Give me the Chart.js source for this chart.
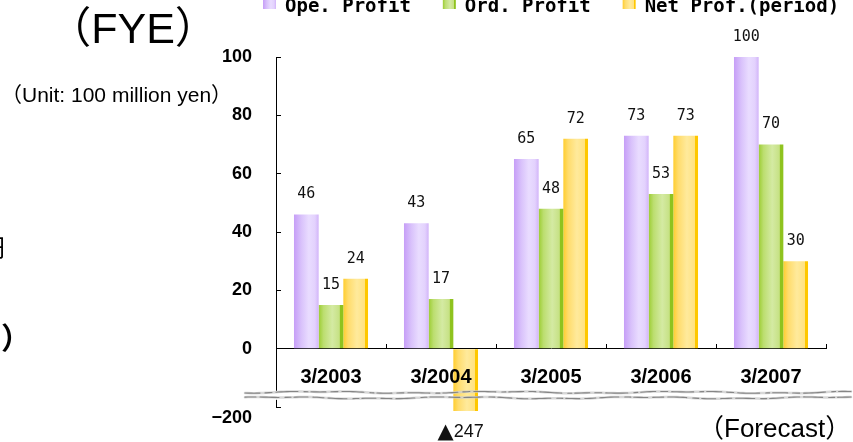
<!DOCTYPE html>
<html>
<head>
<meta charset="utf-8">
<title>Profit trend</title>
<style>
  html, body { margin: 0; padding: 0; background: #fff; }
  #wrap { position: relative; width: 853px; height: 442px; }
</style>
<script src="https://cdn.jsdelivr.net/npm/chart.js@4/dist/chart.umd.min.js"></script>
</head>
<body>
<div id="wrap"><canvas id="profitChart"></canvas></div>
<script>
// Fiscal years ending in March (3/2007 is the forecast year), unit: 100 million yen
const FISCAL_YEARS = ['3/2003', '3/2004', '3/2005', '3/2006', '3/2007'];
const OPERATING_PROFIT = [46, 43, 65, 73, 100];
const ORDINARY_PROFIT = [15, 17, 48, 53, 70];
const NET_PROFIT = [24, -247, 72, 73, 30];
const SERIES_NAMES = ['Ope. Profit', 'Ord. Profit', 'Net Prof.(period)'];
const Y_TICKS = [-200, 0, 20, 40, 60, 80, 100];
const AXIS_MIN = -200;
const AXIS_MAX = 100;
const BREAK_AT = -160;   // where the zig-zag break of the value axis sits

// Broken value axis: the negative side is compressed so the big loss still fits.
function squash(v) {
  if (v >= 0) return v;
  if (v >= -200) return v / 10;
  return -20 + (v + 200) * 0.03;
}
function stretch(s) {
  if (s >= 0) return s;
  if (s >= -20) return s * 10;
  return -200 + (s + 20) / 0.03;
}

class BrokenLinearScale extends Chart.LinearScale {
  getPixelForValue(value) {
    const lo = squash(this.min), hi = squash(this.max);
    return this.getPixelForDecimal((squash(value) - lo) / (hi - lo));
  }
  getValueForPixel(pixel) {
    const lo = squash(this.min), hi = squash(this.max);
    return stretch(lo + this.getDecimalForPixel(pixel) * (hi - lo));
  }
}
BrokenLinearScale.id = 'brokenLinear';
BrokenLinearScale.defaults = Chart.LinearScale.defaults;
Chart.register(BrokenLinearScale);

// Horizontal shading of each bar (light core, saturated edges)
const SHADES = [
  [[0, '#c69ef7'], [0.3, '#d9c2fb'], [0.6, '#e9dcff'], [0.85, '#e3d2fd'], [1, '#d2b4f9']],
  [[0, '#9ccd33'], [0.2, '#bcde70'], [0.55, '#d4eaa3'], [0.84, '#c6e184'], [0.87, '#8fc31f'], [1, '#8fc31f']],
  [[0, '#ffcd2e'], [0.2, '#ffdc6c'], [0.55, '#ffea9c'], [0.86, '#ffe281'], [0.89, '#ffc700'], [1, '#ffc700']]
];
const FLAT = ['#dcc8fc', '#c4e07f', '#ffe07a'];

function shade(ctx, x0, x1, stops) {
  const g = ctx.createLinearGradient(x0, 0, x1, 0);
  stops.forEach(([o, c]) => g.addColorStop(o, c));
  return g;
}

const barShading = {
  id: 'barShading',
  beforeDatasetDraw(chart, args) {
    const ctx = chart.ctx;
    ctx.save();
    args.meta.data.forEach(bar => {
      const {x, width} = bar.getProps(['x', 'width'], true);
      const own = bar.options;
      bar.options = Object.assign({}, own, {
        backgroundColor: shade(ctx, x - width / 2, x + width / 2, SHADES[args.index])
      });
      bar.draw(ctx);
      bar.options = own;
    });
    ctx.restore();
    return false;
  }
};

function wavy(ctx, x0, x1, y, phase) {
  ctx.beginPath();
  for (let x = x0; x <= x1; x += 3) {
    const dy = Math.sin((x + phase) / 29) * 0.8 + Math.sin((x + phase) / 9.7) * 0.4;
    if (x === x0) ctx.moveTo(x, y + dy); else ctx.lineTo(x, y + dy);
  }
  ctx.stroke();
}

const axisBreak = {
  id: 'axisBreak',
  beforeDatasetsDraw(chart) {
    const {ctx, chartArea} = chart;
    const yc = chart.scales.y.getPixelForValue(BREAK_AT);
    ctx.save();
    ctx.fillStyle = '#fff';
    ctx.fillRect(chartArea.left - 31, yc - 4.5, chart.width, 9);
    ctx.restore();
  },
  afterDatasetsDraw(chart) {
    const {ctx, chartArea} = chart;
    const yc = chart.scales.y.getPixelForValue(BREAK_AT);
    const x0 = chartArea.left - 31, x1 = chart.width;
    ctx.save();
    ctx.lineCap = 'round';
    ctx.strokeStyle = 'rgba(205,205,205,0.8)';
    ctx.lineWidth = 2.5;
    wavy(ctx, x0, x1, yc - 3, 0);
    wavy(ctx, x0, x1, yc + 2.5, 40);
    ctx.strokeStyle = '#858585';
    ctx.lineWidth = 1.1;
    ctx.setLineDash([15, 5, 7, 4, 22, 6, 4, 3]);
    wavy(ctx, x0, x1, yc - 3, 0);
    ctx.setLineDash([11, 4, 19, 6, 6, 3, 14, 5]);
    wavy(ctx, x0, x1, yc + 2.5, 40);
    ctx.restore();
  }
};

const valueLabels = {
  id: 'valueLabels',
  afterDatasetsDraw(chart) {
    const ctx = chart.ctx;
    ctx.save();
    ctx.textBaseline = 'middle';
    ctx.fillStyle = '#111';
    chart.data.datasets.forEach((ds, di) => {
      chart.getDatasetMeta(di).data.forEach((bar, i) => {
        const v = ds.data[i];
        const {x, y} = bar.getProps(['x', 'y'], true);
        if (v >= 0) {
          ctx.textAlign = 'center';
          ctx.font = '15px "DejaVu Sans Mono", monospace';
          ctx.fillText(String(v), x, y - 20);
        } else {
          // Japanese negative notation: a black triangle before the amount
          const mark = '▲', amount = String(Math.abs(v));
          const markFont = '21px "DejaVu Sans", sans-serif';
          const numFont = '18px "Liberation Sans", Arial, sans-serif';
          ctx.font = markFont;
          const wMark = ctx.measureText(mark).width;
          ctx.font = numFont;
          const wNum = ctx.measureText(amount).width;
          const left = x - 5 - (wMark + wNum) / 2;
          ctx.textAlign = 'left';
          ctx.font = markFont;
          ctx.fillText(mark, left, y + 21);
          ctx.font = numFont;
          ctx.fillText(amount, left + wMark, y + 21);
        }
      });
    });
    ctx.restore();
  }
};

const captions = {
  id: 'captions',
  afterDraw(chart) {
    const ctx = chart.ctx;
    ctx.save();
    ctx.fillStyle = '#000';
    ctx.textBaseline = 'alphabetic';
    const put = (text, x, y, font, align) => {
      ctx.font = font;
      ctx.textAlign = align || 'left';
      ctx.fillText(text, x, y);
    };
    put('（FYE）', 133, 43, '43px "Liberation Sans", "Noto Sans CJK JP", sans-serif', 'center');
    put('（Unit: 100 million yen）', 1, 102, '21px "Liberation Sans", "Noto Sans CJK JP", sans-serif');
    put('（Forecast）', 698, 437, '26px "Liberation Sans", "Noto Sans CJK JP", sans-serif');
    put('円', -19, 256, '24px "Noto Sans CJK JP", sans-serif');
    put('）', 1, 349, 'bold 30px "Noto Sans CJK JP", sans-serif');

    // legend row along the top edge
    ctx.font = 'bold 19px "DejaVu Sans Mono", monospace';
    ctx.textAlign = 'left';
    let x = 263;
    chart.data.datasets.forEach((ds, i) => {
      ctx.fillStyle = shade(ctx, x, x + 13, SHADES[i]);
      ctx.fillRect(x, -4, 13, 13);
      ctx.fillStyle = '#000';
      ctx.fillText(ds.label, x + 22, 12);
      x += 22 + ctx.measureText(ds.label).width + 32;
    });
    ctx.restore();
  }
};

const axisFont = (size) => ({family: '"Liberation Sans", Arial, sans-serif', size, weight: 'bold'});

new Chart(document.getElementById('profitChart'), {
  type: 'bar',
  data: {
    labels: FISCAL_YEARS,
    datasets: [
      {label: SERIES_NAMES[0], data: OPERATING_PROFIT, backgroundColor: FLAT[0]},
      {label: SERIES_NAMES[1], data: ORDINARY_PROFIT, backgroundColor: FLAT[1]},
      {label: SERIES_NAMES[2], data: NET_PROFIT, backgroundColor: FLAT[2]}
    ]
  },
  options: {
    responsive: true,
    maintainAspectRatio: false,
    animation: false,
    events: [],
    layout: {padding: {left: 0, top: 57, right: 27, bottom: 35}},
    datasets: {bar: {categoryPercentage: 0.673, barPercentage: 1, borderWidth: 0}},
    plugins: {legend: {display: false}, tooltip: {enabled: false}},
    scales: {
      x: {
        type: 'category',
        position: {y: 0},
        offset: true,
        grid: {offset: true, drawOnChartArea: false, tickLength: -5, color: '#000'},
        border: {color: '#000', width: 1},
        ticks: {z: 1, padding: 22, color: '#000', font: axisFont(20), maxRotation: 0, autoSkip: false}
      },
      y: {
        type: 'brokenLinear',
        min: AXIS_MIN,
        max: AXIS_MAX,
        afterBuildTicks: (scale) => { scale.ticks = Y_TICKS.map(v => ({value: v})); },
        afterFit: (scale) => {
          scale.width = 276;
          scale.paddingTop = 0;
          scale.paddingBottom = 0;
        },
        grid: {drawOnChartArea: false, tickLength: -5, color: '#000'},
        border: {color: '#000', width: 1},
        ticks: {
          padding: 29,
          color: '#000',
          autoSkip: false,
          font: axisFont(18),
          callback: (v) => v < 0 ? ['', '−' + Math.abs(v)] : String(v)
        }
      }
    }
  },
  plugins: [barShading, axisBreak, valueLabels, captions]
});
</script>
</body>
</html>
